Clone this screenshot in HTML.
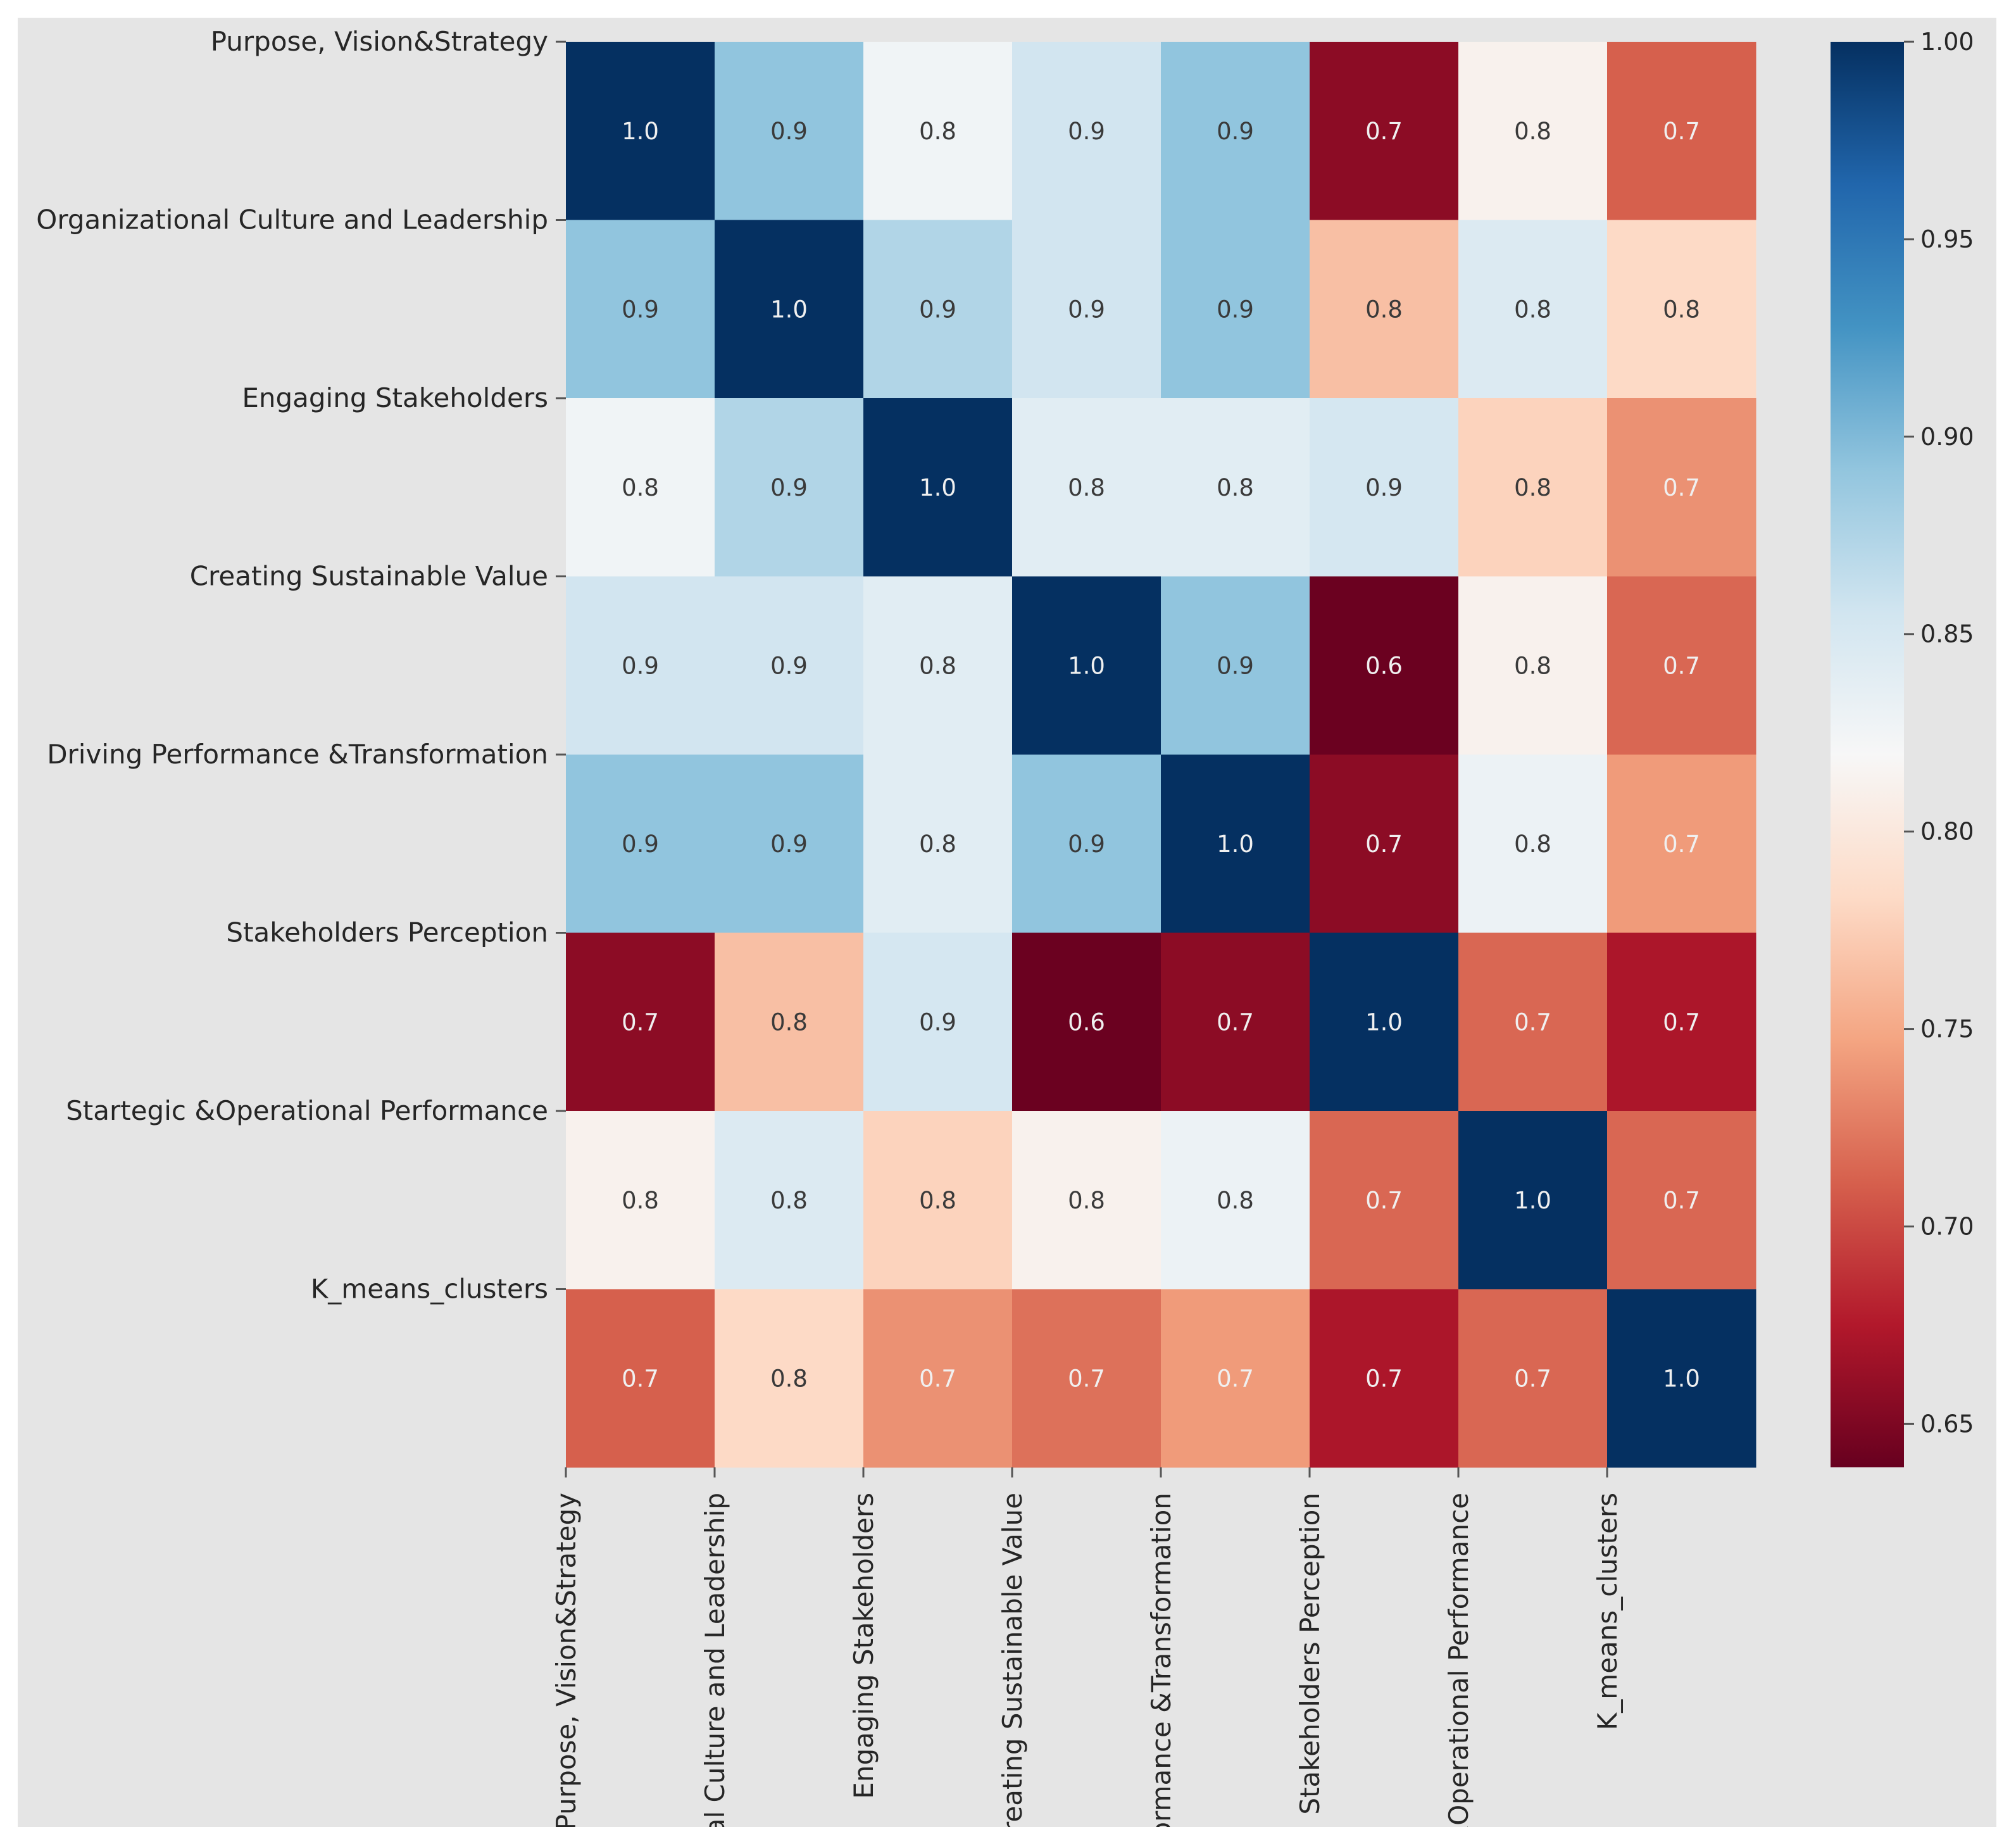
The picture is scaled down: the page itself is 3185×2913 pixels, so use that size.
<!DOCTYPE html>
<html><head><meta charset="utf-8">
<style>
html,body{margin:0;padding:0;background:#fff;width:3185px;height:2913px;overflow:hidden;}
svg{display:block;overflow:hidden;}
text{font-family:"DejaVu Sans","Liberation Sans",sans-serif;}
</style></head>
<body>
<svg id="chart" width="3185" height="2913" viewBox="0 0 3185 2913" xmlns="http://www.w3.org/2000/svg">
<defs>
<clipPath id="bgclip"><rect x="28" y="28" width="3126" height="2858"/></clipPath>
<linearGradient id="cbgrad" x1="0" y1="1" x2="0" y2="0"></linearGradient>
</defs>
<rect x="28" y="28" width="3126" height="2858" fill="#e5e5e5"/>
<g id="cells"></g>
<g id="ann"></g>
<g id="ylab"></g>
<g id="xlab" clip-path="url(#bgclip)"></g>
<g id="cbar"></g>
</svg>
<script>
const labels = ["Purpose, Vision&Strategy","Organizational Culture and Leadership","Engaging Stakeholders","Creating Sustainable Value","Driving Performance &Transformation ","Stakeholders Perception","Startegic &Operational Performance ","K_means_clusters"];
const row0 = [1.0,0.892,0.826,0.855,0.892,0.657,0.812,0.711];
const row1 = [0.892,1.0,0.874,0.855,0.892,0.765,0.845,0.783];
const row2 = [0.826,0.874,1.0,0.840,0.840,0.852,0.778,0.737];
const row3 = [0.855,0.855,0.840,1.0,0.892,0.641,0.812,0.715];
const row4 = [0.892,0.892,0.840,0.892,1.0,0.657,0.830,0.742];
const row5 = [0.657,0.765,0.852,0.641,0.657,1.0,0.715,0.672];
const row6 = [0.812,0.845,0.778,0.812,0.830,0.715,1.0,0.715];
const row7 = [0.711,0.783,0.737,0.720,0.742,0.672,0.715,1.0];
const matrix = [row0,row1,row2,row3,row4,row5,row6,row7];
const cbTicks = [0.65,0.70,0.75,0.80,0.85,0.90,0.95,1.00];
const vmin = 0.639, vmax = 1.0;

const NS = "http://www.w3.org/2000/svg";
const X0 = 894, X1 = 2774, Y0 = 66, Y1 = 2318;
const n = labels.length;
const cw = (X1 - X0) / n, ch = (Y1 - Y0) / n;
const xPos = i => X0 + i * cw;
const yPos = i => Y0 + i * ch;
const CB0 = 2892, CB1 = 3008;
const cbY = v => Y1 - (v - vmin) / (vmax - vmin) * (Y1 - Y0);

const stops = ["#67001f","#b2182b","#d6604d","#f4a582","#fddbc7","#f7f7f7","#d1e5f0","#92c5de","#4393c3","#2166ac","#053061"];
function hex(h){return [1,3,5].map(i=>parseInt(h.substr(i,2),16));}
function cmap(v){
  let t = (v - vmin) / (vmax - vmin); t = Math.max(0, Math.min(1, t));
  const p = t * (stops.length - 1), i = Math.min(Math.floor(p), stops.length - 2), f = p - i;
  const a = hex(stops[i]), b = hex(stops[i+1]);
  return "rgb(" + a.map((c,k)=>Math.round(c + (b[k]-c)*f)).join(",") + ")";
}
function mk(tag, attrs, parent){
  const e = document.createElementNS(NS, tag);
  for (const k in attrs) e.setAttribute(k, attrs[k]);
  parent.appendChild(e); return e;
}
const cells = document.getElementById("cells"), ann = document.getElementById("ann");
for (let r = 0; r < n; r++) for (let c = 0; c < n; c++) {
  const v = matrix[r][c];
  const rect = mk("rect", {x:xPos(c), y:yPos(r), width:cw+0.5, height:ch+0.5, fill:cmap(v)}, cells);
  
  
  const t = mk("text", {x:xPos(c)+cw/2, y:yPos(r)+ch/2+13, "text-anchor":"middle", "font-size":"37", fill:(v < 0.75 || v > 0.95) ? "#f0f0f0" : "#3a3a3a"}, ann);
  t.textContent = v.toFixed(1);
  
  
}
const ylab = document.getElementById("ylab"), xlab = document.getElementById("xlab");
for (let i = 0; i < n; i++) {
  const y = yPos(i);
  const tk = mk("line", {x1:X0-16, x2:X0, y1:y, y2:y, stroke:"#555", "stroke-width":3}, ylab);
  
  
  const t = mk("text", {x:X0-28, y:y+14, "text-anchor":"end", "font-size":"42", fill:"#262626", "xml:space":"preserve"}, ylab);
  t.textContent = labels[i];
  
  
  const x = xPos(i);
  const tx = mk("line", {x1:x, x2:x, y1:Y1, y2:Y1+16, stroke:"#555", "stroke-width":3}, xlab);
  
  
  const xt = mk("text", {x:0, y:0, "text-anchor":"end", "font-size":"42", fill:"#262626", transform:"translate(" + (x+15) + "," + (Y1+40) + ") rotate(-90)", "xml:space":"preserve"}, xlab);
  xt.textContent = labels[i];
  
  
}
const grad = document.getElementById("cbgrad");
for (let k = 0; k < stops.length; k++) mk("stop", {offset:(k/(stops.length-1)), "stop-color":stops[k]}, grad);
const cbar = document.getElementById("cbar");
const cbr = mk("rect", {x:CB0, y:Y0, width:CB1-CB0, height:Y1-Y0, fill:"url(#cbgrad)"}, cbar);


cbTicks.forEach(v => {
  const y = cbY(v);
  const l = mk("line", {x1:CB1, x2:CB1+16, y1:y, y2:y, stroke:"#555", "stroke-width":3}, cbar);
  
  
  const t = mk("text", {x:CB1+26, y:y+13, "font-size":"38", fill:"#262626"}, cbar);
  t.textContent = v.toFixed(2);
  
  
});
</script>
</body></html>
